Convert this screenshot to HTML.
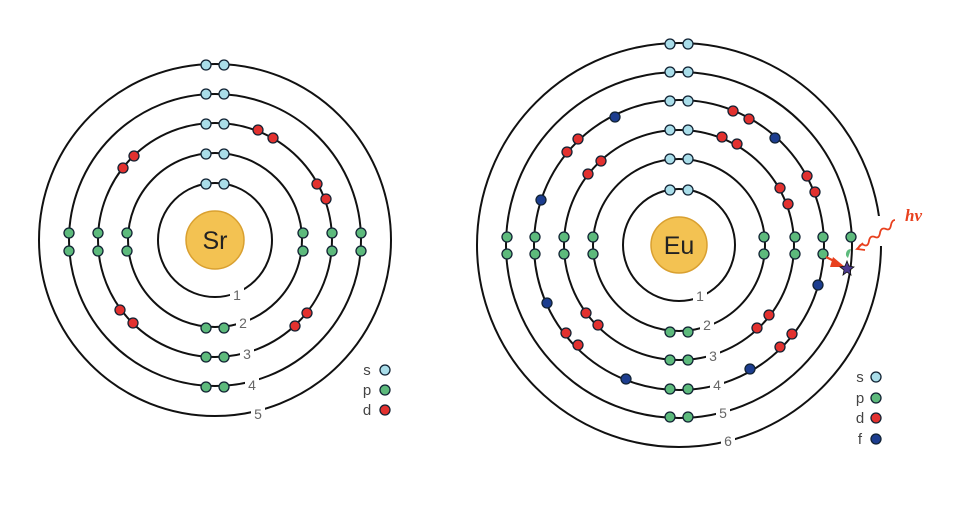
<!DOCTYPE html>
<html><head><meta charset="utf-8"><style>
html,body{margin:0;padding:0;background:#fff;width:957px;height:517px;overflow:hidden}
svg{display:block}
.r{fill:none;stroke:#111;stroke-width:2}
.s{fill:#a9dde9;stroke:#123;stroke-width:1.3}
.p{fill:#5dba7c;stroke:#123;stroke-width:1.3}
.d{fill:#e2312f;stroke:#123;stroke-width:1.3}
.f{fill:#1c3d8f;stroke:#123;stroke-width:1.3}
.lb{font-family:"Liberation Sans",sans-serif;font-size:14px;fill:#666;text-anchor:middle}
.lg{font-family:"Liberation Sans",sans-serif;font-size:15px;fill:#444;text-anchor:middle}
.w{fill:#fff}
</style></head><body>
<svg width="957" height="517" viewBox="0 0 957 517" xmlns="http://www.w3.org/2000/svg">
<g>
<circle class="r" cx="215" cy="240" r="57"/>
<circle class="r" cx="215" cy="240" r="87"/>
<circle class="r" cx="215" cy="240" r="117"/>
<circle class="r" cx="215" cy="240" r="146"/>
<circle class="r" cx="215" cy="240" r="176"/>
<rect class="w" x="230" y="287" width="14" height="16"/>
<rect class="w" x="236" y="315" width="14" height="16"/>
<rect class="w" x="240" y="346" width="14" height="16"/>
<rect class="w" x="245" y="377" width="14" height="16"/>
<rect class="w" x="251" y="406" width="14" height="16"/>
<text class="lb" x="237" y="300">1</text>
<text class="lb" x="243" y="328">2</text>
<text class="lb" x="247" y="359">3</text>
<text class="lb" x="252" y="390">4</text>
<text class="lb" x="258" y="419">5</text>
<circle cx="215" cy="240" r="29" fill="#f3c252" stroke="#d9a030" stroke-width="1.5"/>
<text x="215" y="249" font-family="Liberation Sans,sans-serif" font-size="25" fill="#222" text-anchor="middle">Sr</text>
<circle class="s" cx="206" cy="184" r="5"/><circle class="s" cx="224" cy="184" r="5"/>
<circle class="s" cx="206" cy="154" r="5"/><circle class="s" cx="224" cy="154" r="5"/>
<circle class="s" cx="206" cy="124" r="5"/><circle class="s" cx="224" cy="124" r="5"/>
<circle class="s" cx="206" cy="94" r="5"/><circle class="s" cx="224" cy="94" r="5"/>
<circle class="s" cx="206" cy="65" r="5"/><circle class="s" cx="224" cy="65" r="5"/>
<circle class="p" cx="127" cy="233" r="5"/><circle class="p" cx="127" cy="251" r="5"/>
<circle class="p" cx="98" cy="233" r="5"/><circle class="p" cx="98" cy="251" r="5"/>
<circle class="p" cx="69" cy="233" r="5"/><circle class="p" cx="69" cy="251" r="5"/>
<circle class="p" cx="303" cy="233" r="5"/><circle class="p" cx="303" cy="251" r="5"/>
<circle class="p" cx="332" cy="233" r="5"/><circle class="p" cx="332" cy="251" r="5"/>
<circle class="p" cx="361" cy="233" r="5"/><circle class="p" cx="361" cy="251" r="5"/>
<circle class="p" cx="206" cy="328" r="5"/><circle class="p" cx="224" cy="328" r="5"/>
<circle class="p" cx="206" cy="357" r="5"/><circle class="p" cx="224" cy="357" r="5"/>
<circle class="p" cx="206" cy="387" r="5"/><circle class="p" cx="224" cy="387" r="5"/>
<circle class="d" cx="258" cy="130" r="5"/><circle class="d" cx="273" cy="138" r="5"/>
<circle class="d" cx="134" cy="156" r="5"/><circle class="d" cx="123" cy="168" r="5"/>
<circle class="d" cx="317" cy="184" r="5"/><circle class="d" cx="326" cy="199" r="5"/>
<circle class="d" cx="120" cy="310" r="5"/><circle class="d" cx="133" cy="323" r="5"/>
<circle class="d" cx="307" cy="313" r="5"/><circle class="d" cx="295" cy="326" r="5"/>
<text class="lg" x="367" y="375">s</text><circle class="s" cx="385" cy="370" r="5"/>
<text class="lg" x="367" y="395">p</text><circle class="p" cx="385" cy="390" r="5"/>
<text class="lg" x="367" y="415">d</text><circle class="d" cx="385" cy="410" r="5"/>
</g>
<g>
<circle class="r" cx="679" cy="245" r="56"/>
<circle class="r" cx="679" cy="245" r="86"/>
<circle class="r" cx="679" cy="245" r="115"/>
<circle class="r" cx="679" cy="245" r="145"/>
<circle class="r" cx="679" cy="245" r="173"/>
<circle class="r" cx="679" cy="245" r="202"/>
<rect class="w" x="875" y="216" width="12" height="30"/>
<rect class="w" x="693" y="288" width="14" height="16"/>
<rect class="w" x="700" y="317" width="14" height="16"/>
<rect class="w" x="706" y="348" width="14" height="16"/>
<rect class="w" x="710" y="377" width="14" height="16"/>
<rect class="w" x="716" y="405" width="14" height="16"/>
<rect class="w" x="721" y="433" width="14" height="16"/>
<text class="lb" x="700" y="301">1</text>
<text class="lb" x="707" y="330">2</text>
<text class="lb" x="713" y="361">3</text>
<text class="lb" x="717" y="390">4</text>
<text class="lb" x="723" y="418">5</text>
<text class="lb" x="728" y="446">6</text>
<circle cx="679" cy="245" r="28" fill="#f3c252" stroke="#d9a030" stroke-width="1.5"/>
<text x="679" y="254" font-family="Liberation Sans,sans-serif" font-size="25" fill="#222" text-anchor="middle">Eu</text>
<circle class="s" cx="670" cy="190" r="5"/><circle class="s" cx="688" cy="190" r="5"/>
<circle class="s" cx="670" cy="159" r="5"/><circle class="s" cx="688" cy="159" r="5"/>
<circle class="s" cx="670" cy="130" r="5"/><circle class="s" cx="688" cy="130" r="5"/>
<circle class="s" cx="670" cy="101" r="5"/><circle class="s" cx="688" cy="101" r="5"/>
<circle class="s" cx="670" cy="72" r="5"/><circle class="s" cx="688" cy="72" r="5"/>
<circle class="s" cx="670" cy="44" r="5"/><circle class="s" cx="688" cy="44" r="5"/>
<circle class="p" cx="593" cy="237" r="5"/><circle class="p" cx="593" cy="254" r="5"/>
<circle class="p" cx="564" cy="237" r="5"/><circle class="p" cx="564" cy="254" r="5"/>
<circle class="p" cx="535" cy="237" r="5"/><circle class="p" cx="535" cy="254" r="5"/>
<circle class="p" cx="507" cy="237" r="5"/><circle class="p" cx="507" cy="254" r="5"/>
<circle class="p" cx="764" cy="237" r="5"/><circle class="p" cx="764" cy="254" r="5"/>
<circle class="p" cx="795" cy="237" r="5"/><circle class="p" cx="795" cy="254" r="5"/>
<circle class="p" cx="823" cy="237" r="5"/><circle class="p" cx="823" cy="254" r="5"/>
<circle class="p" cx="851" cy="237" r="5"/>
<path d="M851 249 a5 5 0 0 0 -3 9" fill="#5dba7c"/>
<circle class="p" cx="670" cy="332" r="5"/><circle class="p" cx="688" cy="332" r="5"/>
<circle class="p" cx="670" cy="360" r="5"/><circle class="p" cx="688" cy="360" r="5"/>
<circle class="p" cx="670" cy="389" r="5"/><circle class="p" cx="688" cy="389" r="5"/>
<circle class="p" cx="670" cy="417" r="5"/><circle class="p" cx="688" cy="417" r="5"/>
<circle class="d" cx="733" cy="111" r="5"/><circle class="d" cx="749" cy="119" r="5"/>
<circle class="d" cx="807" cy="176" r="5"/><circle class="d" cx="815" cy="192" r="5"/>
<circle class="d" cx="578" cy="139" r="5"/><circle class="d" cx="567" cy="152" r="5"/>
<circle class="d" cx="566" cy="333" r="5"/><circle class="d" cx="578" cy="345" r="5"/>
<circle class="d" cx="792" cy="334" r="5"/><circle class="d" cx="780" cy="347" r="5"/>
<circle class="d" cx="722" cy="137" r="5"/><circle class="d" cx="737" cy="144" r="5"/>
<circle class="d" cx="780" cy="188" r="5"/><circle class="d" cx="788" cy="204" r="5"/>
<circle class="d" cx="601" cy="161" r="5"/><circle class="d" cx="588" cy="174" r="5"/>
<circle class="d" cx="586" cy="313" r="5"/><circle class="d" cx="598" cy="325" r="5"/>
<circle class="d" cx="769" cy="315" r="5"/><circle class="d" cx="757" cy="328" r="5"/>
<circle class="f" cx="615" cy="117" r="5"/><circle class="f" cx="775" cy="138" r="5"/>
<circle class="f" cx="541" cy="200" r="5"/><circle class="f" cx="818" cy="285" r="5"/>
<circle class="f" cx="547" cy="303" r="5"/><circle class="f" cx="626" cy="379" r="5"/>
<circle class="f" cx="750" cy="369" r="5"/>
<line x1="826" y1="257" x2="836" y2="262" stroke="#e8401e" stroke-width="2.2"/>
<polygon points="845,267 833,257 830,267" fill="#e8401e"/>
<polygon points="847,261 849,266 854,267 850,270 851,275 847,272 843,275 844,270 840,267 845,266" fill="#4b3a90" stroke="#111" stroke-width="0.8"/>
<path d="M858 249 q2 -6 6 -4 q4 2 5 -4 q1 -6 6 -4 q4 2 5 -4 q1 -6 6 -4 q4 2 5 -4 q1 -5 4 -5" fill="none" stroke="#e8401e" stroke-width="1.8"/>
<path d="M863 243 l-6 6 l8 1" fill="none" stroke="#e8401e" stroke-width="1.8"/>
<text x="905" y="221" font-family="Liberation Serif,serif" font-size="17" font-style="italic" font-weight="bold" fill="#e8401e">hv</text>
<text class="lg" x="860" y="382">s</text><circle class="s" cx="876" cy="377" r="5"/>
<text class="lg" x="860" y="403">p</text><circle class="p" cx="876" cy="398" r="5"/>
<text class="lg" x="860" y="423">d</text><circle class="d" cx="876" cy="418" r="5"/>
<text class="lg" x="860" y="444">f</text><circle class="f" cx="876" cy="439" r="5"/>
</g>
</svg>
</body></html>
